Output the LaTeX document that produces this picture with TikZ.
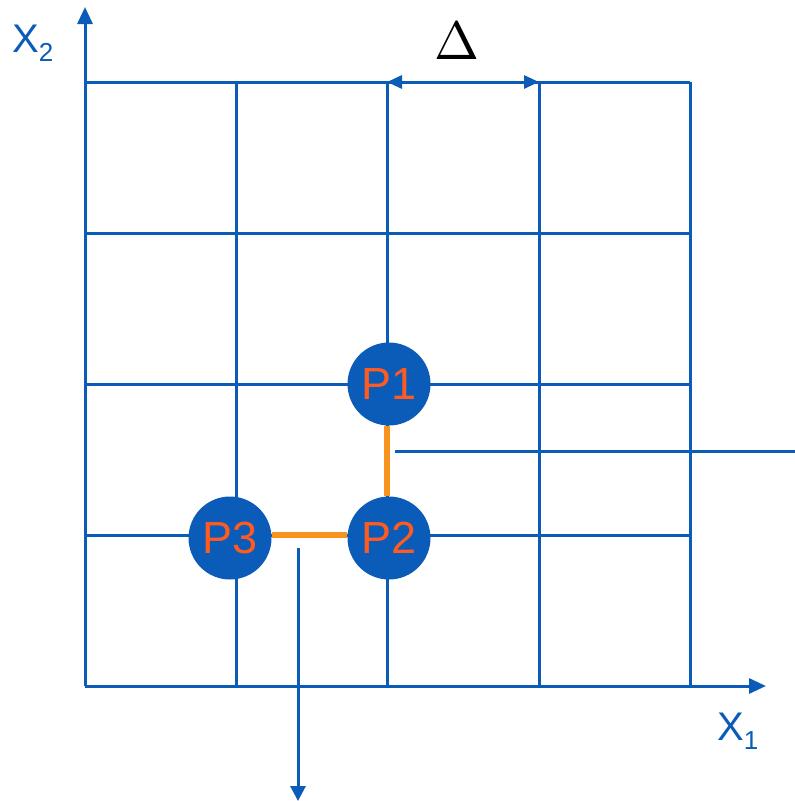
\documentclass[tikz,border=0pt]{standalone}
\usepackage{fontspec}
\newfontfamily\arialf{Liberation Sans}
\usetikzlibrary{arrows.meta}
\definecolor{gblue}{RGB}{10,92,184}
\definecolor{gorange}{RGB}{247,147,30}
\definecolor{ptext}{RGB}{255,90,31}
\tikzset{
  gridline/.style={draw=gblue, line width=3pt},
  axisline/.style={draw=gblue, line width=3pt, -{Triangle[length=17pt,width=15pt]}},
  pnode/.style={circle, fill=gblue, minimum size=83pt, inner sep=0pt, text=ptext, font=\arialf\fontsize{45}{45}\selectfont},
  link/.style={draw=gorange, line width=6pt},
  axlabel/.style={text=gblue, font=\arialf\fontsize{40}{40}\selectfont, inner sep=0pt, anchor=base west}
}
\begin{document}
\begin{tikzpicture}[x=1pt,y=-1pt]
\useasboundingbox (0,0) rectangle (795,801);
% grid
\foreach \x in {236,387,539,690} \draw[gridline] (\x,82) -- (\x,686);
\foreach \y in {82,233,384,535} \draw[gridline] (85,\y) -- (690,\y);
% axes
\coordinate (O) at (85,686);
\coordinate (X1end) at (766,686);
\coordinate (X2end) at (85,7);
\draw[axisline] (O) -- (X1end);
\draw[axisline] (O) -- (X2end);
\node[axlabel] (x2lab) at (12,52) {X\raisebox{-9pt}{\fontsize{26}{26}\selectfont 2}};
\node[axlabel] (x1lab) at (717,740) {X\raisebox{-9pt}{\fontsize{26}{26}\selectfont 1}};
% delta
\coordinate (d1) at (387,82);
\coordinate (d2) at (539,82);
\draw[gridline, {Triangle[length=15pt,width=13pt]}-{Triangle[length=15pt,width=13pt]}] (d1) -- (d2);
\node[inner sep=0pt, scale=5.4] (delta) at (457,41) {$\Delta$};
% extra lines
\coordinate (h1) at (395,451);
\coordinate (h2) at (795,451);
\draw[gridline] (h1) -- (h2);
\coordinate (v1) at (298,548);
\coordinate (v2) at (298,801);
\draw[gridline, -{Triangle[length=15pt,width=15pt]}] (v1) -- (v2);
% points
\node[pnode] (P1) at (389,384) {P1};
\node[pnode] (P2) at (389,538) {P2};
\node[pnode] (P3) at (230,538) {P3};
\draw[link] ([xshift=-2pt]P1.south) -- ([xshift=-2pt]P2.north);
\draw[link] ([yshift=3pt]P3.east) -- ([yshift=3pt]P2.west);
\end{tikzpicture}
\end{document}
